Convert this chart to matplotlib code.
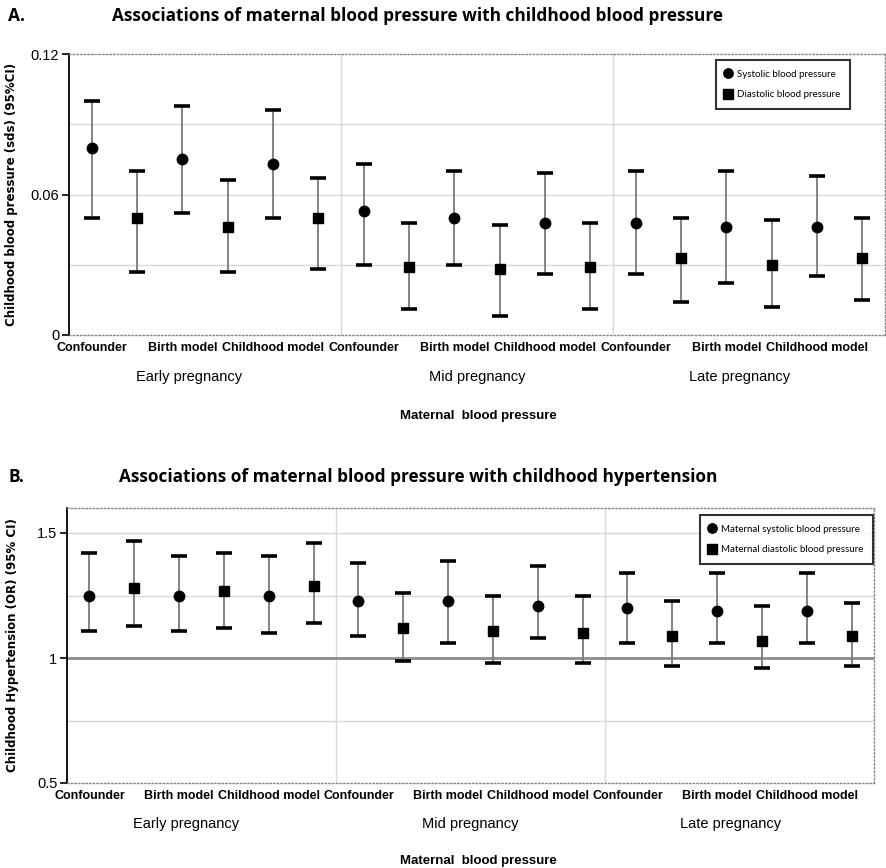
import numpy as np
import matplotlib as mpl
import matplotlib.pyplot as plt
import matplotlib.transforms as mtransforms


# --------------------------------------------------------------
# Data
# --------------------------------------------------------------

periods = ["Early pregnancy", "Mid pregnancy", "Late pregnancy"]
models = ["Confounder", "Birth model", "Childhood model"]

# panel A: childhood blood pressure (sds), order = early x3 models, mid x3, late x3
a_sys = [0.080, 0.075, 0.073, 0.053, 0.050, 0.048, 0.048, 0.046, 0.046]
a_sys_lo = [0.050, 0.052, 0.050, 0.030, 0.030, 0.026, 0.026, 0.022, 0.025]
a_sys_hi = [0.100, 0.098, 0.096, 0.073, 0.070, 0.069, 0.070, 0.070, 0.068]
a_dia = [0.050, 0.046, 0.050, 0.029, 0.028, 0.029, 0.033, 0.030, 0.033]
a_dia_lo = [0.027, 0.027, 0.028, 0.011, 0.008, 0.011, 0.014, 0.012, 0.015]
a_dia_hi = [0.070, 0.066, 0.067, 0.048, 0.047, 0.048, 0.050, 0.049, 0.050]

# panel B: childhood hypertension (OR)
b_sys = [1.25, 1.25, 1.25, 1.23, 1.23, 1.21, 1.20, 1.19, 1.19]
b_sys_lo = [1.11, 1.11, 1.10, 1.09, 1.06, 1.08, 1.06, 1.06, 1.06]
b_sys_hi = [1.42, 1.41, 1.41, 1.38, 1.39, 1.37, 1.34, 1.34, 1.34]
b_dia = [1.28, 1.27, 1.29, 1.12, 1.11, 1.10, 1.09, 1.07, 1.09]
b_dia_lo = [1.13, 1.12, 1.14, 0.99, 0.98, 0.98, 0.97, 0.96, 0.97]
b_dia_hi = [1.47, 1.42, 1.46, 1.26, 1.25, 1.25, 1.23, 1.21, 1.22]

# --------------------------------------------------------------
# Settings
# --------------------------------------------------------------

mpl.rcParams['font.family'] = ['Liberation Sans', 'DejaVu Sans']
narrow = ['Liberation Sans Narrow', 'Liberation Sans']
title_font = ['Open Sans', 'DejaVu Sans']
err_col = '#7a7a7a'
grid_col = '#d9d9d9'

fig = plt.figure(figsize=(8.86, 8.68), dpi=100)


def draw_panel(ax, sys_v, sys_lo, sys_hi, dia_v, dia_lo, dia_hi, leg_labels, leg_pos):
    sys_v = np.array(sys_v)
    dia_v = np.array(dia_v)
    idx = np.arange(len(sys_v))
    x_sys = idx * 2 + 0.5
    x_dia = idx * 2 + 1.5

    eb1 = ax.errorbar(x_sys, sys_v, yerr=[sys_v - np.array(sys_lo), np.array(sys_hi) - sys_v],
                      fmt='o', color='black', ms=7.5, ecolor=err_col, elinewidth=1.3,
                      capsize=5.5, capthick=2.6, label=leg_labels[0], zorder=3)
    eb2 = ax.errorbar(x_dia, dia_v, yerr=[dia_v - np.array(dia_lo), np.array(dia_hi) - dia_v],
                      fmt='s', color='black', ms=7.5, ecolor=err_col, elinewidth=1.3,
                      capsize=5.5, capthick=2.6, label=leg_labels[1], zorder=3)
    # caps are black in the original
    for eb in (eb1, eb2):
        for cap in eb[1]:
            cap.set_markeredgecolor('black')
            cap.set_markerfacecolor('black')

    ax.set_xlim(0, 18)
    for g in (6, 12):
        ax.axvline(g, color=grid_col, lw=1, zorder=0)

    xt = [g * 6 + m * 2 + 0.5 for g in range(3) for m in range(3)]
    ax.set_xticks(xt)
    ax.set_xticklabels(models * 3, family=narrow, fontweight='bold', fontsize=9)
    ax.tick_params(axis='x', length=0, pad=5)
    ax.tick_params(axis='y', direction='out', length=5, width=1.2, labelsize=10.5, pad=2)

    trans = mtransforms.blended_transform_factory(ax.transData, ax.transAxes)
    for gx, name in zip([2.65, 9.0, 14.8], periods):
        ax.text(gx, -0.15, name, transform=trans, ha='center', va='center',
                family=narrow, fontsize=10.5)

    for s in ('top', 'bottom', 'right'):
        ax.spines[s].set_linestyle(':')
        ax.spines[s].set_color('#888888')
        ax.spines[s].set_linewidth(1)
    ax.spines['left'].set_linewidth(1.3)

    handles, labels = ax.get_legend_handles_labels()
    handles = [h[0] for h in handles]
    leg = ax.legend(handles, labels, loc='upper left', bbox_to_anchor=leg_pos,
                    bbox_transform=fig.transFigure, frameon=True, fancybox=False,
                    fontsize=7, handlelength=0.5, handletextpad=0.7, borderpad=1.0,
                    labelspacing=1.2, borderaxespad=0, markerscale=0.9)
    leg.get_frame().set_edgecolor('black')
    leg.get_frame().set_linewidth(1.5)
    for t in leg.get_texts():
        t.set_family(['Lato', 'DejaVu Sans'])
    return ax


# --------------------------------------------------------------
# Panel A
# --------------------------------------------------------------

ax1 = fig.add_axes([69 / 886, 1 - 335 / 868, 816 / 886, 281 / 868])
draw_panel(ax1, a_sys, a_sys_lo, a_sys_hi, a_dia, a_dia_lo, a_dia_hi,
           ["Systolic blood pressure", "Diastolic blood pressure"],
           (716 / 886, 1 - 60 / 868))
ax1.set_ylim(0, 0.12)
ax1.set_yticks([0, 0.06, 0.12])
ax1.set_yticklabels(["0", "0.06", "0.12"])
for yv in (0.03, 0.06, 0.09):
    ax1.axhline(yv, color=grid_col, lw=1, zorder=0)
ax1.set_ylabel("Childhood blood pressure (sds) (95%CI)", fontweight='bold', fontsize=8.5,
               family='DejaVu Sans')
ax1.yaxis.set_label_coords(-0.062, 0.5)

fig.text(8 / 886, 1 - 16 / 868, "A.", fontweight='bold', fontsize=12.5, va='center',
         family=title_font)
fig.text(418 / 886, 1 - 16 / 868,
         "Associations of maternal blood pressure with childhood blood pressure",
         fontweight='bold', fontsize=12.4, ha='center', va='center', family=title_font)
fig.text(478 / 886, 1 - 416 / 868, "Maternal  blood pressure", fontweight='bold',
         fontsize=9.5, ha='center', va='center', family=narrow)

# --------------------------------------------------------------
# Panel B
# --------------------------------------------------------------

ax2 = fig.add_axes([67 / 886, 1 - 783 / 868, 807 / 886, 275 / 868])
draw_panel(ax2, b_sys, b_sys_lo, b_sys_hi, b_dia, b_dia_lo, b_dia_hi,
           ["Maternal systolic blood pressure", "Maternal diastolic blood pressure"],
           (700 / 886, 1 - 515 / 868))
ax2.set_ylim(0.5, 1.6)
ax2.set_yticks([0.5, 1, 1.5])
ax2.set_yticklabels(["0.5", "1", "1.5"])
for yv in (0.75, 1.25, 1.5):
    ax2.axhline(yv, color=grid_col, lw=1, zorder=0)
ax2.axhline(1, color='#8c8c8c', lw=2, zorder=1)
ax2.set_ylabel("Childhood Hypertension (OR) (95% CI)", fontweight='bold', fontsize=8.5,
               family='DejaVu Sans')
ax2.yaxis.set_label_coords(-0.06, 0.5)

fig.text(8 / 886, 1 - 477 / 868, "B.", fontweight='bold', fontsize=12.5, va='center',
         family=title_font)
fig.text(418 / 886, 1 - 477 / 868,
         "Associations of maternal blood pressure with childhood hypertension",
         fontweight='bold', fontsize=12.4, ha='center', va='center', family=title_font)
fig.text(478 / 886, 1 - 861 / 868, "Maternal  blood pressure", fontweight='bold',
         fontsize=9.5, ha='center', va='center', family=narrow)

plt.savefig("out.png", dpi=100)
plt.close()
